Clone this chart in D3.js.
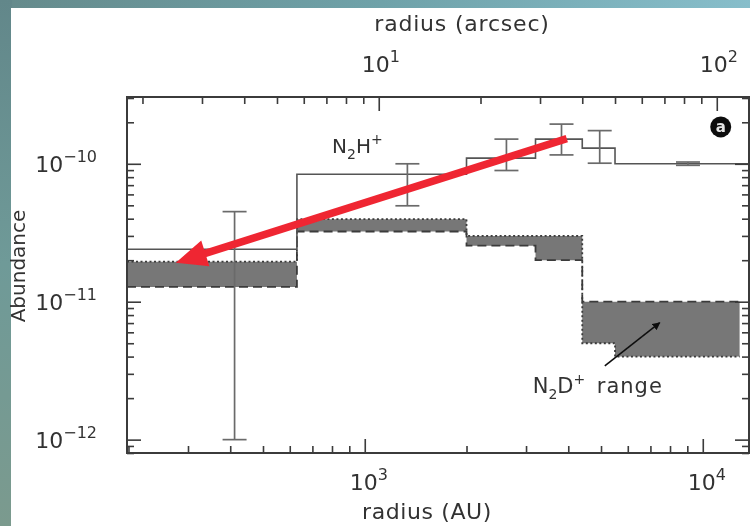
<!DOCTYPE html>
<html>
<head>
<meta charset="utf-8">
<script src="https://cdn.jsdelivr.net/npm/d3@7"></script>
<style>
  body { margin: 0; background: #fff; }
  svg { display: block; }
  text { font-family: "DejaVu Sans", "Liberation Sans", Arial, sans-serif; fill: #333; }
</style>
</head>
<body>
<svg id="chart" width="750" height="526"></svg>
<script>
// ---- data -------------------------------------------------------------
// Shell boundaries in AU (N2D+ shells and N2H+ model shells)
const shellEdges = [198, 630, 2000, 3200, 4400, 5500, 12850];
const n2hEdges   = [198, 630, 2000, 3200, 4400, 5500, 13700];
// N2H+ model abundance per shell
const n2hAbundance = [2.4e-11, 8.4e-11, 1.10e-10, 1.51e-10, 1.30e-10, 1.0e-10];
// N2D+ abundance range per shell (two bounding solutions)
const n2dDotted = [1.95e-11, 3.97e-11, 3.0e-11, 3.0e-11, 5.0e-12, 4.0e-12];
const n2dDashed = [1.28e-11, 3.23e-11, 2.55e-11, 2.0e-11, 1.0e-11, 1.0e-11];
// N2H+ abundance uncertainties at sampled radii
const obsRadius = [412, 1337, 2625, 3820, 4955, 9040];
const obsHigh   = [4.5e-11, 1.0e-10, 1.51e-10, 1.94e-10, 1.74e-10, 1.03e-10];
const obsLow    = [1.0e-12, 4.96e-11, 8.94e-11, 1.16e-10, 1.01e-10, 0.975e-10];
// Axes
const distancePc = 110;                 // AU per arcsec
const xDomain = [198, 13700];           // AU
const yDomain = [8e-13, 3.05e-10];      // abundance
const yMajor = [1e-12, 1e-11, 1e-10];
const yMajorExp = ["\u221212", "\u221211", "\u221210"];
const auMajor = [1e3, 1e4];
const auMajorExp = ["3", "4"];
const arcMajor = [10, 100];
const arcMajorExp = ["1", "2"];

// ---- layout -----------------------------------------------------------
const W = 750, H = 526;
const plot = { left: 127, right: 749, top: 97, bottom: 453 };

const svg = d3.select("#chart");
const defs = svg.append("defs");

// textured teal backdrop around the white panel
const bg = defs.append("linearGradient").attr("id", "bgGrad")
  .attr("x1", 0).attr("y1", 0).attr("x2", 1).attr("y2", 0.15);
bg.append("stop").attr("offset", 0).attr("stop-color", "#658a8b");
bg.append("stop").attr("offset", 0.5).attr("stop-color", "#6fa2a9");
bg.append("stop").attr("offset", 1).attr("stop-color", "#88bfcc");
const bgv = defs.append("linearGradient").attr("id", "bgGradV")
  .attr("x1", 0).attr("y1", 0).attr("x2", 0).attr("y2", 1);
bgv.append("stop").attr("offset", 0).attr("stop-color", "#62878a");
bgv.append("stop").attr("offset", 0.5).attr("stop-color", "#6f9a98");
bgv.append("stop").attr("offset", 1).attr("stop-color", "#7b9a8e");
defs.append("filter").attr("id", "soft")
  .append("feGaussianBlur").attr("stdDeviation", 0.55);

svg.append("rect").attr("width", W).attr("height", H).attr("fill", "url(#bgGrad)");
svg.append("rect").attr("width", 12).attr("height", H).attr("fill", "url(#bgGradV)");
svg.append("rect").attr("x", 11).attr("y", 8).attr("width", W - 11).attr("height", H - 8)
  .attr("fill", "#ffffff").attr("filter", "url(#soft)");

defs.append("clipPath").attr("id", "plotClip").append("rect")
  .attr("x", plot.left).attr("y", plot.top)
  .attr("width", plot.right - plot.left).attr("height", plot.bottom - plot.top);

const g = svg.append("g").attr("filter", "url(#soft)");

const x = d3.scaleLog().domain(xDomain).range([plot.left, plot.right]);
const xArc = d3.scaleLog().domain(xDomain.map(v => v / distancePc)).range([plot.left, plot.right]);
const y = d3.scaleLog().domain(yDomain).range([plot.bottom, plot.top]);

const data = g.append("g").attr("clip-path", "url(#plotClip)");

// ---- N2D+ range: shaded band between the two step profiles -------------
const shells = d3.range(n2dDotted.length).map(i => ({
  r0: shellEdges[i], r1: shellEdges[i + 1], dot: n2dDotted[i], dash: n2dDashed[i]
}));
const stepPts = (key) => {
  const pts = [];
  shells.forEach(s => { pts.push([s.r0, s[key]]); pts.push([s.r1, s[key]]); });
  return pts;
};
const dotPts = stepPts("dot"), dashPts = stepPts("dash");
const line = d3.line().x(d => x(d[0])).y(d => y(d[1]));
const band = d3.area().x(d => x(d[0])).y0(d => y(d[1])).y1(d => y(d[2]));
data.append("path")
  .datum(dotPts.map((p, i) => [p[0], p[1], dashPts[i][1]]))
  .attr("d", band).attr("fill", "#777");
data.append("path").datum(dotPts).attr("d", line)
  .attr("fill", "none").attr("stroke", "#3a3a3a").attr("stroke-width", 1.8)
  .attr("stroke-dasharray", "2,2.5");
data.append("path").datum(dashPts).attr("d", line)
  .attr("fill", "none").attr("stroke", "#3a3a3a").attr("stroke-width", 1.8)
  .attr("stroke-dasharray", "9,5");

// ---- N2H+ model profile ------------------------------------------------
const n2hPts = [];
n2hAbundance.forEach((v, i) => { n2hPts.push([n2hEdges[i], v]); n2hPts.push([n2hEdges[i + 1], v]); });
data.append("path").datum(n2hPts).attr("d", line)
  .attr("fill", "none").attr("stroke", "#555").attr("stroke-width", 1.6);

// ---- error bars ----------------------------------------------------------
const capHalf = 12;
const eb = data.selectAll("g.eb").data(obsRadius.map((r, i) => ({ r, lo: obsLow[i], hi: obsHigh[i] })))
  .join("g").attr("class", "eb").attr("stroke", "#6a6a6a").attr("stroke-width", 1.7);
eb.append("line").attr("x1", d => x(d.r)).attr("x2", d => x(d.r))
  .attr("y1", d => y(d.lo)).attr("y2", d => y(d.hi));
eb.append("line").attr("x1", d => x(d.r) - capHalf).attr("x2", d => x(d.r) + capHalf)
  .attr("y1", d => y(d.lo)).attr("y2", d => y(d.lo));
eb.append("line").attr("x1", d => x(d.r) - capHalf).attr("x2", d => x(d.r) + capHalf)
  .attr("y1", d => y(d.hi)).attr("y2", d => y(d.hi));

// ---- axes: inward ticks on all four sides ------------------------------
const axisG = g.append("g").attr("stroke", "#3a3a3a");
function ticksOn(axisFn, scale, pos, minorLen, majorLen, majors) {
  const all = scale.ticks();
  const minors = all.filter(t => !majors.some(m => Math.abs(m / t - 1) < 1e-6));
  const a1 = axisFn(scale).tickValues(minors).tickSize(-minorLen).tickFormat("");
  const a2 = axisFn(scale).tickValues(majors).tickSize(-majorLen).tickFormat("");
  [a1, a2].forEach(a => {
    const gg = axisG.append("g").attr("transform", pos).call(a);
    gg.select(".domain").remove();
    gg.selectAll("line").attr("stroke", "#3a3a3a").attr("stroke-width", 1.6);
  });
}
ticksOn(d3.axisBottom, x, `translate(0,${plot.bottom})`, 7, 14, auMajor);
ticksOn(d3.axisTop, xArc, `translate(0,${plot.top})`, 7, 14, arcMajor);
ticksOn(d3.axisLeft, y, `translate(${plot.left},0)`, 7, 14, yMajor);
ticksOn(d3.axisRight, y, `translate(${plot.right},0)`, 7, 14, yMajor);

axisG.append("rect")
  .attr("x", plot.left).attr("y", plot.top)
  .attr("width", plot.right - plot.left).attr("height", plot.bottom - plot.top)
  .attr("fill", "none").attr("stroke", "#3a3a3a").attr("stroke-width", 2);

// ---- tick labels (power-of-ten notation) --------------------------------
const labels = g.append("g");
function powerLabel(px, py, exp, anchor) {
  const t = labels.append("text").attr("x", px).attr("y", py)
    .attr("text-anchor", anchor).attr("font-size", 22);
  t.append("tspan").text("10");
  t.append("tspan").attr("dy", -10).attr("font-size", 16).text(exp);
}
yMajor.forEach((v, i) => powerLabel(plot.left - 30, y(v) + 8, yMajorExp[i], "end"));
auMajor.forEach((v, i) => powerLabel(x(v) + 4, plot.bottom + 37, auMajorExp[i], "middle"));
arcMajor.forEach((v, i) => powerLabel(xArc(v) + 2, plot.top - 25, arcMajorExp[i], "middle"));

labels.append("text").attr("x", 462).attr("y", 31).attr("text-anchor", "middle")
  .attr("font-size", 22).attr("letter-spacing", 0.8).text("radius (arcsec)");
labels.append("text").attr("x", 427).attr("y", 519).attr("text-anchor", "middle")
  .attr("font-size", 22).attr("letter-spacing", 0.6).text("radius (AU)");
labels.append("text").attr("transform", "translate(25,266) rotate(-90)")
  .attr("text-anchor", "middle").attr("font-size", 20).text("Abundance");

// ---- annotations ---------------------------------------------------------
function species(px, py, base, sub, sup, size) {
  const t = labels.append("text").attr("x", px).attr("y", py).attr("font-size", size);
  t.append("tspan").text(base[0]);
  t.append("tspan").attr("dy", 6).attr("font-size", 14).text(sub);
  t.append("tspan").attr("dy", -6).text(base[1]);
  t.append("tspan").attr("dy", -9).attr("font-size", 14).text(sup);
  return t;
}
species(x(800), y(1.2e-10), ["N", "H"], "2", "+", 20);
const lab2 = species(x(3140), y(2.19e-12), ["N", "D"], "2", "+", 21);
lab2.append("tspan").attr("dy", 9).attr("letter-spacing", 1).text("\u2002range");

// black pointer to the shaded range
const pA = [x(5130), y(3.43e-12)], pB = [x(7460), y(7.05e-12)];
defs.append("marker").attr("id", "blackHead").attr("viewBox", "0 0 10 10")
  .attr("refX", 9).attr("refY", 5).attr("markerWidth", 8).attr("markerHeight", 8)
  .attr("markerUnits", "userSpaceOnUse").attr("orient", "auto")
  .append("path").attr("d", "M0,0 L10,5 L0,10 Z").attr("fill", "#111");
labels.append("line").attr("x1", pA[0]).attr("y1", pA[1]).attr("x2", pB[0]).attr("y2", pB[1])
  .attr("stroke", "#111").attr("stroke-width", 1.6).attr("marker-end", "url(#blackHead)");

// panel tag: circled letter
const tag = labels.append("g").attr("transform", `translate(${x(11300)},${y(1.85e-10)})`);
tag.append("circle").attr("r", 10.5).attr("fill", "#111");
tag.append("text").attr("y", 5).attr("text-anchor", "middle").attr("font-size", 15)
  .attr("font-weight", "bold").style("fill", "#e6e6e6").text("a");

// red arrow pointing to the inner shell
const tail = [x(3960), y(1.52e-10)], tip = [x(276), y(1.92e-11)];
const ang = Math.atan2(tip[1] - tail[1], tip[0] - tail[0]);
const ux = Math.cos(ang), uy = Math.sin(ang), nx = -uy, ny = ux;
const shaftW = 3.8, headL = 31, headW = 13.5;
const hb = [tip[0] - ux * headL, tip[1] - uy * headL];
const arrowPts = [
  [tail[0] + nx * shaftW, tail[1] + ny * shaftW],
  [hb[0] + nx * shaftW, hb[1] + ny * shaftW],
  [hb[0] + nx * headW, hb[1] + ny * headW],
  tip,
  [hb[0] - nx * headW, hb[1] - ny * headW],
  [hb[0] - nx * shaftW, hb[1] - ny * shaftW],
  [tail[0] - nx * shaftW, tail[1] - ny * shaftW]
];
svg.append("path").attr("d", "M" + arrowPts.map(p => p.join(",")).join("L") + "Z")
  .attr("fill", "#ef2633").attr("filter", "url(#soft)");
</script>
</body>
</html>
